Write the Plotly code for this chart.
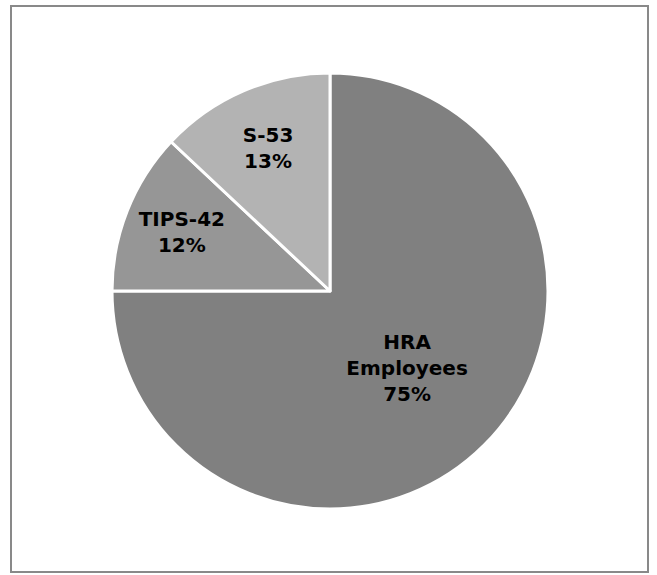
import plotly.graph_objects as go

# Share of participants by group
labels = ["HRA<br>Employees", "TIPS-42", "S-53"]
values = [75, 12, 13]
colors = ["#808080", "#969696", "#b3b3b3"]

W, H = 657, 575
cx, cy, r = 330, 291, 218

fig = go.Figure(
    go.Pie(
        labels=labels,
        values=values,
        sort=False,
        direction="clockwise",
        rotation=0,
        marker=dict(colors=colors, line=dict(color="white", width=3)),
        texttemplate="%{label}<br>%{percent:.0%}",
        textposition="inside",
        insidetextorientation="horizontal",
        textfont=dict(family="DejaVu Sans", size=20, color="black", weight="bold"),
        showlegend=False,
        hoverinfo="label+percent",
        domain=dict(
            x=[(cx - r) / W, (cx + r) / W],
            y=[1 - (cy + r) / H, 1 - (cy - r) / H],
        ),
    )
)

fig.add_shape(
    type="rect", xref="paper", yref="paper",
    x0=11 / W, x1=648 / W, y0=1 - 572 / H, y1=1 - 6 / H,
    line=dict(color="#898989", width=2), fillcolor="rgba(0,0,0,0)",
)

fig.update_layout(
    width=W, height=H,
    margin=dict(l=0, r=0, t=0, b=0),
    paper_bgcolor="white",
    plot_bgcolor="white",
    uniformtext=dict(minsize=20, mode="show"),
)

fig.write_html("out.html")
